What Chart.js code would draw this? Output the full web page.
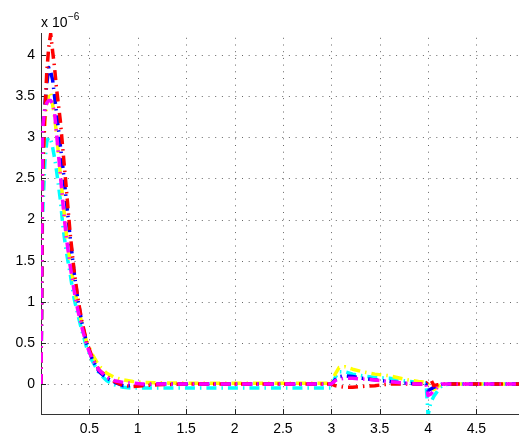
<!DOCTYPE html>
<html><head><meta charset="utf-8">
<script src="https://cdn.jsdelivr.net/npm/chart.js@4.4.0/dist/chart.umd.min.js"></script>
<style>html,body{margin:0;padding:0;background:#fff;overflow:hidden}canvas{display:block}</style>
</head><body>
<canvas id="c" width="519" height="437"></canvas>
<script>
// time samples (s)
const times = [0, 0.015, 0.04, 0.06, 0.08, 0.1, 0.12, 0.14, 0.16, 0.18, 0.2, 0.23, 0.26, 0.3, 0.34, 0.38, 0.42, 0.47, 0.53, 0.6, 0.68, 0.76, 0.85, 0.95, 1.05, 1.2, 1.5, 2, 2.5, 2.98, 3.0, 3.04, 3.08, 3.14, 3.22, 3.32, 3.45, 3.6, 3.75, 3.9, 3.98, 4.0, 4.03, 4.06, 4.1, 4.15, 4.25, 4.5, 4.94];
// series values (x 1e-6)
const redVals = [0, 2.5, 3.3, 3.8, 4.1, 4.26, 4.05, 3.85, 3.6, 3.4, 3.2, 2.8, 2.4, 1.85, 1.4, 1.05, 0.78, 0.52, 0.32, 0.17, 0.09, 0.03, -0.02, -0.03, -0.02, -0.01, 0, 0, 0, 0, 0, -0.02, -0.03, -0.04, -0.04, -0.03, -0.02, 0, 0, 0, 0, 0.03, 0.05, -0.02, -0.01, 0, 0, 0, 0];
const blueVals = [0, 2.6, 3.4, 3.65, 3.85, 3.8, 3.7, 3.5, 3.3, 3.1, 2.9, 2.6, 2.25, 1.8, 1.38, 1.03, 0.76, 0.5, 0.3, 0.15, 0.07, 0.02, -0.02, -0.02, -0.01, 0, 0, 0, 0, 0, 0, 0.05, 0.09, 0.1, 0.09, 0.07, 0.05, 0.03, 0.01, 0, 0, -0.08, -0.06, -0.04, -0.02, 0, 0, 0, 0];
const yellowVals = [0, 2.4, 3.2, 3.4, 3.52, 3.55, 3.4, 3.25, 3.05, 2.8, 2.55, 2.2, 1.85, 1.5, 1.2, 0.95, 0.75, 0.52, 0.36, 0.22, 0.13, 0.08, 0.05, 0.03, 0.02, 0.015, 0.01, 0.01, 0.01, 0.01, 0.01, 0.12, 0.2, 0.21, 0.18, 0.15, 0.12, 0.1, 0.06, 0.03, 0.02, 0, -0.04, -0.07, -0.03, 0, 0, 0, 0];
const magentaVals = [0, 3.1, 3.35, 3.42, 3.45, 3.45, 3.4, 3.3, 3.05, 2.8, 2.55, 2.15, 1.8, 1.45, 1.15, 0.9, 0.7, 0.48, 0.3, 0.17, 0.08, 0.04, 0.02, 0.01, 0, 0, 0, 0, 0, 0, 0, 0.04, 0.06, 0.07, 0.07, 0.06, 0.05, 0.03, 0.01, 0, 0, -0.14, -0.12, -0.08, -0.04, 0, 0, 0, 0];
const cyanVals = [0, 2.0, 2.7, 2.95, 3.0, 2.98, 2.88, 2.75, 2.6, 2.42, 2.24, 1.88, 1.62, 1.35, 1.05, 0.85, 0.66, 0.45, 0.28, 0.13, 0.04, -0.01, -0.04, -0.05, -0.05, -0.05, -0.05, -0.05, -0.05, -0.05, -0.05, 0.08, 0.15, 0.15, 0.12, 0.1, 0.08, 0.07, 0.04, 0.02, 0.01, -0.38, -0.22, -0.15, -0.08, -0.01, 0, 0, 0];
// ticks
const xTicks = [0.5, 1, 1.5, 2, 2.5, 3, 3.5, 4, 4.5];
const xTickLabels = ['0.5', '1', '1.5', '2', '2.5', '3', '3.5', '4', '4.5'];
const yTicks = [0, 0.5, 1, 1.5, 2, 2.5, 3, 3.5, 4];
const yTickLabels = ['0', '0.5', '1', '1.5', '2', '2.5', '3', '3.5', '4'];
const scaleBase = 'x 10';
const scaleExp = '\u22126';

const FONT = "'Liberation Sans', Arial, Helvetica, sans-serif";
const pts = vals => vals.map((v, i) => ({x: times[i], y: v}));
const DASH = [10, 5, 1.5, 5];
const mk = (vals, color) => ({data: pts(vals), borderColor: color, borderWidth: 3.5, borderDash: DASH,
  borderCapStyle: 'butt', borderJoinStyle: 'round', pointRadius: 0, tension: 0, fill: false});

const matlabPlugin = {
  id: 'matlab',
  beforeDatasetsDraw(chart) {
    const {ctx, chartArea: a, scales: {x, y}} = chart;
    ctx.save();
    ctx.strokeStyle = 'rgba(0,0,0,0.6)';
    ctx.lineWidth = 1;
    ctx.setLineDash([1, 5.7]);
    xTicks.forEach(v => { const px = Math.round(x.getPixelForValue(v)) + 0.5;
      ctx.beginPath(); ctx.moveTo(px, a.bottom); ctx.lineTo(px, a.top); ctx.stroke(); });
    yTicks.forEach(v => { const py = Math.round(y.getPixelForValue(v)) + 0.5;
      ctx.beginPath(); ctx.moveTo(a.left, py); ctx.lineTo(a.right, py); ctx.stroke(); });
    ctx.setLineDash([]);
    ctx.strokeStyle = '#222';
    xTicks.forEach(v => { const px = Math.round(x.getPixelForValue(v)) + 0.5;
      ctx.beginPath(); ctx.moveTo(px, a.bottom); ctx.lineTo(px, a.bottom - 5); ctx.stroke(); });
    yTicks.forEach(v => { const py = Math.round(y.getPixelForValue(v)) + 0.5;
      ctx.beginPath(); ctx.moveTo(a.left, py); ctx.lineTo(a.left + 5, py); ctx.stroke(); });
    ctx.restore();
  },
  afterDraw(chart) {
    const {ctx, chartArea: a} = chart;
    ctx.save();
    ctx.fillStyle = '#000';
    ctx.textBaseline = 'alphabetic';
    ctx.textAlign = 'left';
    ctx.font = '14px ' + FONT;
    ctx.fillText(scaleBase, a.left, a.top - 6);
    const w = ctx.measureText(scaleBase).width;
    ctx.font = '10px ' + FONT;
    ctx.fillText(scaleExp, a.left + w + 0.5, a.top - 13);
    ctx.restore();
  }
};

new Chart(document.getElementById('c'), {
  type: 'line',
  data: {datasets: [
    mk(magentaVals, '#ff00ff'),
    mk(redVals, '#ff0000'),
    mk(blueVals, '#0000ff'),
    mk(yellowVals, '#ffff00'),
    mk(cyanVals, '#00ffff')
  ]},
  options: {
    responsive: false, animation: false, events: [],
    layout: {padding: {top: 33, right: 0, left: 0, bottom: 0}},
    plugins: {legend: {display: false}, tooltip: {enabled: false}},
    scales: {
      x: {type: 'linear', min: 0, max: 4.94,
        afterBuildTicks: s => { s.ticks = xTicks.map(v => ({value: v})); },
        afterFit: s => { s.height = 23; },
        grid: {display: false, drawTicks: false},
        border: {display: true, color: '#333', width: 1},
        ticks: {autoSkip: false, maxRotation: 0, padding: 7, color: '#000', font: {family: FONT, size: 14},
          callback: v => xTickLabels[xTicks.indexOf(v)] ?? ''}},
      y: {type: 'linear', min: -0.365, max: 4.27,
        afterBuildTicks: s => { s.ticks = yTicks.map(v => ({value: v})); },
        afterFit: s => { s.width = 41; },
        grid: {display: false, drawTicks: false},
        border: {display: true, color: '#333', width: 1},
        ticks: {autoSkip: false, padding: 6, color: '#000', font: {family: FONT, size: 14},
          callback: v => yTickLabels[yTicks.indexOf(v)] ?? ''}}
    }
  },
  plugins: [matlabPlugin]
});
</script>
</body></html>
